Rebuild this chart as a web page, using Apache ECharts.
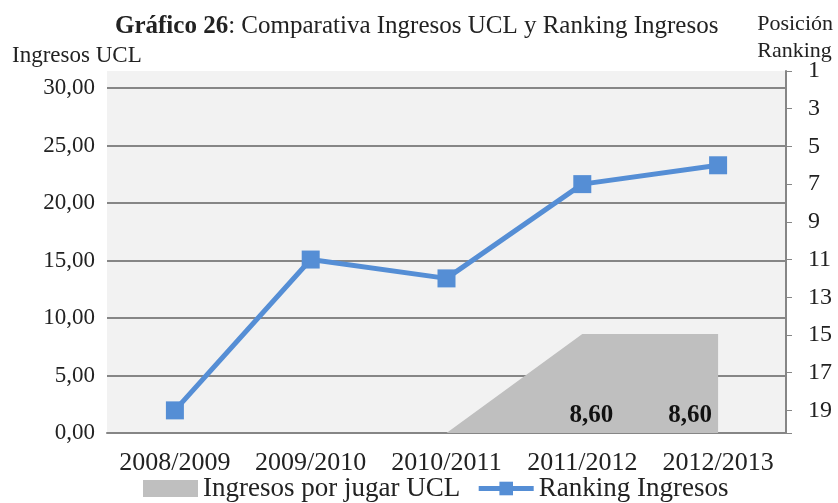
<!DOCTYPE html>
<html>
<head>
<meta charset="utf-8">
<script src="https://cdn.jsdelivr.net/npm/echarts@6/dist/echarts.min.js"></script>
<style>html,body{margin:0;background:#fff}#chart{width:838px;height:503px}</style>
</head>
<body>
<div id="chart"></div>
<script>
// datos del gráfico
var temporadas = ['2008/2009', '2009/2010', '2010/2011', '2011/2012', '2012/2013'];
var ingresosUCL = [0, 0, 0, 8.60, 8.60];
var rankingIngresos = [19, 11, 12, 7, 6];
var ejeIngresos = { min: 0, max: 30, interval: 5 };
var ejeRanking = { min: 1, max: 20.2, interval: 2 };

var fuente = '"Liberation Serif", "DejaVu Serif", serif';
var gris = '#868686';

var dom = document.getElementById('chart');
var myChart = echarts.init(dom);

// desplazamiento de las etiquetas 8,60 (como en el original)
var desplaz = [[0, 0], [0, 0], [0, 0], [9, 81], [-28, 81]];

var option = {
    backgroundColor: '#fff',
    textStyle: { fontFamily: fuente },
    title: [{
        text: '{b|Gráfico 26}: Comparativa Ingresos UCL y Ranking Ingresos',
        left: 110, top: 9,
        textStyle: {
            fontFamily: fuente, fontSize: 25, fontWeight: 'normal', color: '#222',
            rich: { b: { fontFamily: fuente, fontSize: 25, fontWeight: 'bold', color: '#222' } }
        }
    }, {
        text: 'Ingresos UCL',
        left: 7, top: 39,
        textStyle: { fontFamily: fuente, fontSize: 23, fontWeight: 'normal', color: '#222' }
    }, {
        text: 'Posición\nRanking',
        right: 0, top: 6,
        textStyle: { fontFamily: fuente, fontSize: 22, fontWeight: 'normal', color: '#222', lineHeight: 27, align: 'right' }
    }],
    legend: {
        bottom: -4, left: 138,
        itemWidth: 55, itemHeight: 17, itemGap: 16,
        textStyle: { fontFamily: fuente, fontSize: 27, color: '#222' },
        data: [
            { name: 'Ingresos por jugar UCL', icon: 'rect', itemStyle: { color: '#bfbfbf', opacity: 1 } },
            { name: 'Ranking Ingresos', lineStyle: { width: 5 } }
        ]
    },
    grid: [
        { left: 107, right: 52, top: 71, bottom: 70, show: true, backgroundColor: '#f2f2f2', borderWidth: 0 },
        { left: 107, right: 52, top: 88, bottom: 70 }
    ],
    xAxis: [{
        type: 'category', gridIndex: 0, data: temporadas, show: false
    }, {
        type: 'category', gridIndex: 1, data: temporadas,
        axisLine: { lineStyle: { color: gris, width: 2 } },
        axisTick: { show: false },
        axisLabel: { color: '#222', fontSize: 26, margin: 17, fontFamily: fuente, interval: 0, hideOverlap: false }
    }],
    yAxis: [{
        type: 'value', gridIndex: 0, position: 'right', inverse: true,
        min: ejeRanking.min, max: ejeRanking.max, interval: ejeRanking.interval,
        axisLine: { show: true, lineStyle: { color: gris, width: 2 } },
        axisTick: { show: true, length: 6, lineStyle: { color: gris, width: 1 } },
        splitLine: { show: false },
        axisLabel: {
            color: '#222', fontSize: 24, margin: 22, fontFamily: fuente,
            formatter: function (v) { return (v % 2 === 1) ? String(v) : ''; }
        }
    }, {
        type: 'value', gridIndex: 1, position: 'left',
        min: ejeIngresos.min, max: ejeIngresos.max, interval: ejeIngresos.interval,
        axisLine: { show: false },
        axisTick: { show: false },
        splitLine: { lineStyle: { color: gris, width: 2 } },
        axisLabel: {
            color: '#222', fontSize: 23, margin: 12, fontFamily: fuente,
            formatter: function (v) { return v.toFixed(2).replace('.', ','); }
        }
    }],
    series: [{
        name: 'Ingresos por jugar UCL',
        type: 'line',
        xAxisIndex: 1, yAxisIndex: 1,
        data: ingresosUCL.map(function (v, i) {
            return {
                value: v,
                label: { show: v > 0, offset: desplaz[i] }
            };
        }),
        symbol: 'circle', symbolSize: 1, showSymbol: true,
        itemStyle: { color: 'rgba(191,191,191,0)' },
        lineStyle: { width: 0 },
        areaStyle: { color: '#bfbfbf', opacity: 1 },
        label: {
            position: 'inside', color: '#111', fontWeight: 'bold', fontSize: 25, fontFamily: fuente,
            formatter: function (p) { return p.value.toFixed(2).replace('.', ','); }
        },
        emphasis: { disabled: true },
        silent: true,
        z: 2
    }, {
        name: 'Ranking Ingresos',
        type: 'line',
        xAxisIndex: 0, yAxisIndex: 0,
        data: rankingIngresos,
        symbol: 'rect', symbolSize: 18,
        itemStyle: { color: '#558ed5' },
        lineStyle: { color: '#558ed5', width: 5 },
        z: 5
    }]
};

if (option && typeof option === 'object') {
    myChart.setOption(option, true);
}
</script>
</body>
</html>
